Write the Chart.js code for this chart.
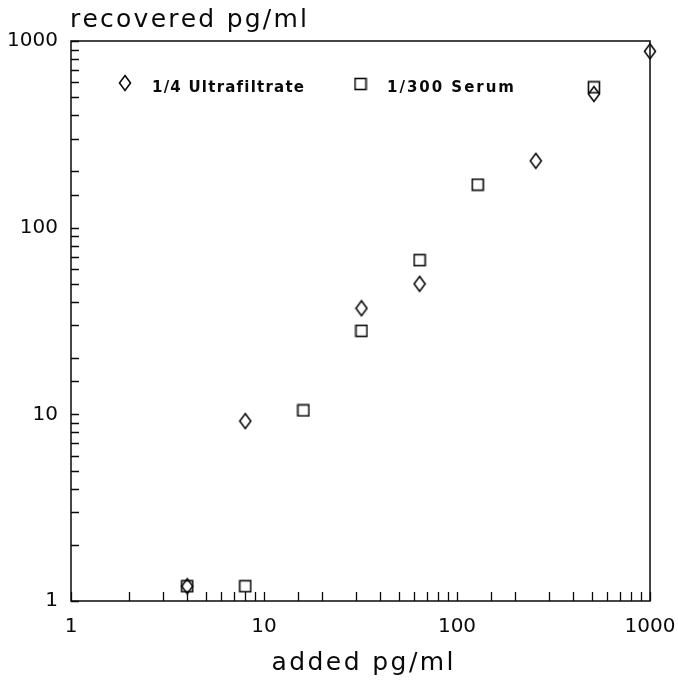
<!DOCTYPE html>
<html>
<head>
<meta charset="utf-8">
<script src="https://cdn.jsdelivr.net/npm/chart.js@4/dist/chart.umd.min.js"></script>
<style>
  html, body { margin: 0; padding: 0; background: #fff; }
  #wrap { width: 678px; height: 681px; }
</style>
</head>
<body>
<div id="wrap"><canvas id="recoveryChart" width="678" height="681"></canvas></div>
<script>
// values (log-log)
var ultraAdded = [4, 8, 32, 64, 256, 512, 1000];
var ultraRecovered = [1.2, 9.2, 37, 50, 228, 520, 880];
var serumAdded = [4, 8, 16, 32, 64, 128, 512];
var serumRecovered = [1.2, 1.2, 10.5, 28, 67, 170, 565];
var seriesLabels = ['1/4 Ultrafiltrate', '1/300 Serum'];
var axisMin = 1, axisMax = 1000;
var xTitle = 'added pg/ml';
var yTitle = 'recovered pg/ml';

var ink = '#0a0a0a';
var fontFamily = "'DejaVu Sans', 'Liberation Sans', Arial, sans-serif";

function toPoints(xs, ys) {
    return xs.map(function(x, i) { return { x: x, y: ys[i] }; });
}

// marker glyphs: narrow tall diamond and open square
function makeDiamond() {
    var c = document.createElement('canvas');
    c.width = 14; c.height = 18;
    var g = c.getContext('2d');
    g.strokeStyle = ink;
    g.lineWidth = 1.6;
    g.beginPath();
    g.moveTo(7, 1.5); g.lineTo(12.5, 9); g.lineTo(7, 16.5); g.lineTo(1.5, 9);
    g.closePath();
    g.stroke();
    return c;
}
function makeSquare() {
    var c = document.createElement('canvas');
    c.width = 14; c.height = 14;
    var g = c.getContext('2d');
    g.strokeStyle = ink;
    g.lineWidth = 1.6;
    g.strokeRect(1.5, 1.5, 11, 11);
    return c;
}
var diamond = makeDiamond();
var square = makeSquare();

// draw text stretched to a given width (the original uses wide tracking)
function spacedText(ctx, text, x, y, width, align) {
    var total = 0, i;
    for (i = 0; i < text.length; i++) total += ctx.measureText(text[i]).width;
    var sp = Math.max(0, (width - total) / (text.length - 1));
    var cx = align === 'center' ? x - width / 2 : x;
    ctx.textAlign = 'left';
    for (i = 0; i < text.length; i++) {
        ctx.fillText(text[i], cx, y);
        cx += ctx.measureText(text[i]).width + sp;
    }
}

function isDecade(v) {
    var l = Math.log10(v);
    return Math.abs(l - Math.round(l)) < 1e-9;
}

// box + inward tick marks
var framePlugin = {
    id: 'frame',
    beforeDatasetsDraw: function(chart) {
        var ctx = chart.ctx, a = chart.chartArea;
        var xs = chart.scales.x, ys = chart.scales.y;
        ctx.save();
        ctx.strokeStyle = ink;
        ctx.lineWidth = 1.5;
        ctx.strokeRect(a.left, a.top, a.right - a.left, a.bottom - a.top);
        ctx.lineWidth = 1.3;
        ctx.beginPath();
        xs.ticks.forEach(function(t) {
            var px = Math.round(xs.getPixelForValue(t.value)) + 0.5;
            ctx.moveTo(px, a.bottom);
            ctx.lineTo(px, a.bottom - 9);
        });
        ys.ticks.forEach(function(t) {
            var py = Math.round(ys.getPixelForValue(t.value)) + 0.5;
            ctx.moveTo(a.left, py);
            ctx.lineTo(a.left + 8, py);
        });
        ctx.stroke();
        ctx.restore();
    }
};

// titles and the in-plot legend
var labelPlugin = {
    id: 'labels',
    afterDraw: function(chart) {
        var ctx = chart.ctx, a = chart.chartArea;
        ctx.save();
        ctx.fillStyle = ink;
        ctx.textBaseline = 'alphabetic';
        ctx.font = '25px ' + fontFamily;
        spacedText(ctx, yTitle, a.left - 1, 27, 237, 'left');
        spacedText(ctx, xTitle, (a.left + a.right) / 2 + 2, 670, 182, 'center');

        var items = [
            { img: diamond, mx: a.left + 54, my: 83, tx: a.left + 81, w: 152 },
            { img: square, mx: a.left + 289.5, my: 84, tx: a.left + 316, w: 127 }
        ];
        ctx.font = 'bold 15px ' + fontFamily;
        ctx.textBaseline = 'middle';
        chart.data.datasets.forEach(function(ds, i) {
            var it = items[i];
            ctx.drawImage(it.img, it.mx - it.img.width / 2, it.my - it.img.height / 2);
            spacedText(ctx, ds.label, it.tx, 88, it.w, 'left');
        });
        ctx.restore();
    }
};

var tickFont = { family: fontFamily, size: 20 };

new Chart(document.getElementById('recoveryChart').getContext('2d'), {
    type: 'scatter',
    data: {
        datasets: [{
            label: seriesLabels[0],
            data: toPoints(ultraAdded, ultraRecovered),
            pointStyle: diamond,
            borderColor: ink,
            clip: false
        }, {
            label: seriesLabels[1],
            data: toPoints(serumAdded, serumRecovered),
            pointStyle: square,
            borderColor: ink,
            clip: false
        }]
    },
    options: {
        responsive: false,
        animation: false,
        devicePixelRatio: 1,
        layout: { padding: { top: 41, right: 28, left: 0, bottom: 0 } },
        plugins: {
            legend: { display: false },
            tooltip: { enabled: false },
            title: { display: false }
        },
        scales: {
            x: {
                type: 'logarithmic',
                min: axisMin,
                max: axisMax,
                grid: { display: false, drawTicks: false },
                border: { display: false },
                afterFit: function(s) { s.height = 80; s.paddingRight = 0; s.paddingLeft = 0; },
                ticks: {
                    autoSkip: false,
                    maxRotation: 0,
                    padding: 14,
                    color: ink,
                    font: tickFont,
                    callback: function(v) { return isDecade(v) ? String(v) : ''; }
                }
            },
            y: {
                type: 'logarithmic',
                min: axisMin,
                max: axisMax,
                grid: { display: false, drawTicks: false },
                border: { display: false },
                afterFit: function(s) { s.width = 71; s.paddingTop = 0; s.paddingBottom = 0; },
                ticks: {
                    autoSkip: false,
                    padding: 13,
                    color: ink,
                    font: tickFont,
                    callback: function(v) { return isDecade(v) ? String(v) : ''; }
                }
            }
        }
    },
    plugins: [framePlugin, labelPlugin]
});
</script>
</body>
</html>
